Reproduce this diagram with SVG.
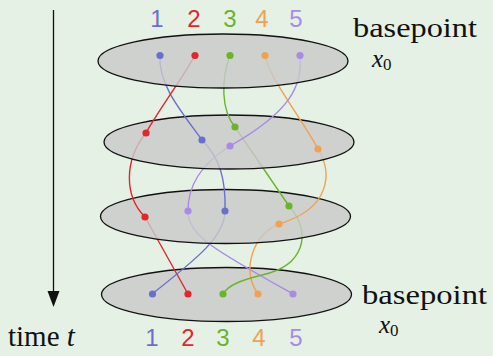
<svg xmlns="http://www.w3.org/2000/svg" width="493" height="356" viewBox="0 0 493 356">
<defs>
<style>
.plane{fill:#c9c9c9;fill-opacity:0.82;stroke:#111;stroke-width:1.3}
.s{fill:none;stroke-width:1.4}
.b{stroke:#6a6fcf}.r{stroke:#e2262c}.g{stroke:#6ab42c}.o{stroke:#f0a252}.p{stroke:#a98ae4}
.db{fill:#6a6fcf}.dr{fill:#e2262c}.dg{fill:#6ab42c}.do{fill:#f0a252}.dp{fill:#a98ae4}
</style>
</defs>
<rect width="493" height="356" fill="#e5f1e4"/>

<g id="time-axis">
<line x1="53.5" y1="10" x2="53.5" y2="291" stroke="#111" stroke-width="1.3"/>
<path d="M47.5,291 L59.5,291 L53.5,307 Z" fill="#111"/>
<text x="8" y="346" font-family="Liberation Serif, serif" style="font-family:'Liberation Serif',serif" font-size="29" fill="#111">time <tspan font-style="italic">t</tspan></text>
</g>

<g id="plane4"><ellipse class="plane" cx="226.5" cy="294.5" rx="125" ry="27"/></g>

<g id="connectors">
<g id="strands-3-4">
<path class="s r" d="M145,217 L188,294" stroke-width="2"/>
<path class="s b" d="M225,211 C225,236 198,258 152,294"/>
<path class="s p" d="M188,211 C188,236 218,252 293,294"/>
<path class="s o" d="M279,224 C255,233 240,268 258,294"/>
<path class="s g" d="M289,206 C313,233 304,266 262,275 C242,280 228,285 223,294"/>
</g>
</g>

<g id="plane3"><ellipse class="plane" cx="225.5" cy="216.5" rx="125" ry="27"/></g>

<g id="strands-2-3">
<path class="s r" d="M146,133 C124,160 124,196 145,217"/>
<path class="s b" d="M202,140 C220,158 226,180 225,211"/>
<path class="s g" d="M235,127 L289,206"/>
<path class="s p" d="M230,146 C200,165 188,186 188,211"/>
<path class="s o" d="M318,149 C332,172 332,208 279,224"/>
</g>

<g id="plane2"><ellipse class="plane" cx="229" cy="142" rx="125" ry="27"/></g>

<g id="strands-1-2">
<path class="s b" d="M160,55 C158,84 180,110 202,140"/>
<path class="s r" d="M195,55 C188,70 156,114 146,133"/>
<path class="s g" d="M230,55 C221,80 221,110 235,127"/>
<path class="s o" d="M265,55 C268,76 300,116 318,149"/>
<path class="s p" d="M300,55 C303,86 290,112 230,146"/>
</g>

<g id="plane1"><ellipse class="plane" cx="223" cy="61" rx="125" ry="27"/></g>

<g id="points">
<circle class="db" cx="160" cy="55.5" r="3.6"/><circle class="dr" cx="195" cy="55.5" r="3.6"/><circle class="dg" cx="230" cy="55.5" r="3.6"/><circle class="do" cx="265" cy="55.5" r="3.6"/><circle class="dp" cx="300" cy="55.5" r="3.6"/>
<circle class="dr" cx="146" cy="133" r="3.6"/><circle class="db" cx="202" cy="140" r="3.6"/><circle class="dg" cx="235" cy="127" r="3.6"/><circle class="dp" cx="230" cy="146" r="3.6"/><circle class="do" cx="318" cy="149" r="3.6"/>
<circle class="dr" cx="145" cy="217" r="3.6"/><circle class="dp" cx="188" cy="211" r="3.6"/><circle class="db" cx="225" cy="211" r="3.6"/><circle class="dg" cx="289" cy="206" r="3.6"/><circle class="do" cx="279" cy="224" r="3.6"/>
<circle class="db" cx="152.5" cy="294" r="3.6"/><circle class="dr" cx="188" cy="294" r="3.6"/><circle class="dg" cx="223" cy="294" r="3.6"/><circle class="do" cx="258" cy="294" r="3.6"/><circle class="dp" cx="293" cy="294" r="3.6"/>
</g>

<g id="labels-top" font-family="Liberation Sans, sans-serif" font-size="24" text-anchor="middle">
<text x="157" y="27" fill="#6a6fcf">1</text>
<text x="194" y="27" fill="#e2262c">2</text>
<text x="230" y="27" fill="#6ab42c">3</text>
<text x="262" y="27" fill="#f0a252">4</text>
<text x="296" y="27" fill="#a98ae4">5</text>
</g>
<g id="labels-bottom" font-family="Liberation Sans, sans-serif" font-size="24" text-anchor="middle">
<text x="152" y="346" fill="#6a6fcf">1</text>
<text x="188" y="346" fill="#e2262c">2</text>
<text x="223" y="346" fill="#6ab42c">3</text>
<text x="259" y="346" fill="#f0a252">4</text>
<text x="296" y="346" fill="#a98ae4">5</text>
</g>

<g id="basepoint-top" fill="#111">
<text x="353" y="37" font-family="Liberation Serif, serif" style="font-family:'Liberation Serif',serif" font-size="28" textLength="124" lengthAdjust="spacingAndGlyphs">basepoint</text>
<text x="372" y="67" font-family="Liberation Serif, serif" style="font-family:'Liberation Serif',serif" font-size="25" font-style="italic">x<tspan font-size="17" font-style="normal" dy="3">0</tspan></text>
</g>
<g id="basepoint-bottom" fill="#111">
<text x="362" y="304" font-family="Liberation Serif, serif" style="font-family:'Liberation Serif',serif" font-size="28" textLength="125" lengthAdjust="spacingAndGlyphs">basepoint</text>
<text x="379" y="333" font-family="Liberation Serif, serif" style="font-family:'Liberation Serif',serif" font-size="25" font-style="italic">x<tspan font-size="17" font-style="normal" dy="3">0</tspan></text>
</g>
</svg>
